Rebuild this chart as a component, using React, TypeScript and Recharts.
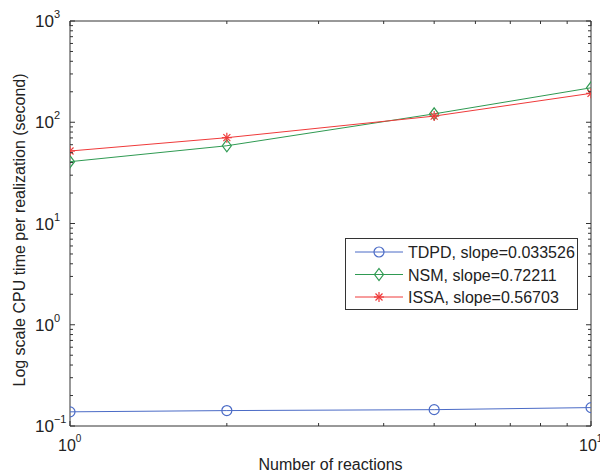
import React from "react";
import {
  LineChart,
  Line,
  XAxis,
  YAxis,
  Legend,
  ReferenceArea,
} from "recharts";

// reaction counts (x) and CPU time per realization (seconds)
const reactions = [1, 2, 5, 10];
const tdpdTimes = [0.138, 0.142, 0.145, 0.152];
const nsmTimes = [40.8, 58.6, 121, 219];
const issaTimes = [52, 70.4, 115, 193];

const seriesNames = [
  "TDPD, slope=0.033526",
  "NSM, slope=0.72211",
  "ISSA, slope=0.56703",
];

const xTitle = "Number of reactions";
const yTitle = "Log scale CPU time per realization (second)";

const xTicks = [1, 2, 3, 4, 5, 6, 7, 8, 9, 10];
const xMajor = [1, 10];
const yMajor = [0.1, 1, 10, 100, 1000];
const yTicks = [
  0.1, 0.2, 0.3, 0.4, 0.5, 0.6, 0.7, 0.8, 0.9,
  1, 2, 3, 4, 5, 6, 7, 8, 9,
  10, 20, 30, 40, 50, 60, 70, 80, 90,
  100, 200, 300, 400, 500, 600, 700, 800, 900,
  1000,
];

const data = reactions.map((x, i) => ({
  x,
  tdpd: tdpdTimes[i],
  nsm: nsmTimes[i],
  issa: issaTimes[i],
}));

const W = 600;
const H = 472;
const PLOT_LEFT = 70;
const PLOT_RIGHT = 591;
const PLOT_TOP = 21;
const PLOT_BOTTOM = 426;

const AXIS = "#333";
const TEXT = "#222";
const FONT = "'Liberation Sans', Arial, Helvetica, sans-serif";

const BLUE = "#4b6bc6";
const GREEN = "#2f9a52";
const RED = "#ef3a3a";

const expLabel = (v: number) => {
  const e = Math.round(Math.log10(v));
  return e < 0 ? "\u2212" + Math.abs(e) : String(e);
};

const isMajor = (list: number[], v: number) =>
  list.some((m) => Math.abs(m - v) < 1e-9);

const XTick = (props: any) => {
  const { x, payload } = props;
  const v = payload.value;
  const major = isMajor(xMajor, v);
  const len = major ? 5 : 3;
  return (
    <g>
      <line x1={x} x2={x} y1={PLOT_BOTTOM} y2={PLOT_BOTTOM - len} stroke={AXIS} />
      <line x1={x} x2={x} y1={PLOT_TOP} y2={PLOT_TOP + len} stroke={AXIS} />
      {major && (
        <text x={x - 12} y={PLOT_BOTTOM + 25} fontSize={16} fill={TEXT} fontFamily={FONT}>
          10
          <tspan dy={-9} fontSize={10}>
            {expLabel(v)}
          </tspan>
        </text>
      )}
    </g>
  );
};

const YTick = (props: any) => {
  const { y, payload } = props;
  const v = payload.value;
  const major = isMajor(yMajor, v);
  const len = major ? 5 : 3;
  return (
    <g>
      <line x1={PLOT_LEFT} x2={PLOT_LEFT + len} y1={y} y2={y} stroke={AXIS} />
      <line x1={PLOT_RIGHT} x2={PLOT_RIGHT - len} y1={y} y2={y} stroke={AXIS} />
      {major && (
        <text x={35} y={y + 6} fontSize={17} fill={TEXT} fontFamily={FONT}>
          10
          <tspan dy={-9} fontSize={11}>
            {expLabel(v)}
          </tspan>
        </text>
      )}
    </g>
  );
};

const YTitle = () => (
  <text
    x={19}
    y={230}
    transform="rotate(-90, 19, 230)"
    textAnchor="middle"
    dominantBaseline="central"
    fontSize={16}
    fill={TEXT}
    fontFamily={FONT}
  >
    {yTitle}
  </text>
);

const CircleMark = ({ cx, cy, color }: any) => (
  <circle cx={cx} cy={cy} r={5} fill="none" stroke={color} strokeWidth={1.2} />
);

const DiamondMark = ({ cx, cy, color }: any) => (
  <polygon
    points={`${cx},${cy - 6} ${cx + 4.5},${cy} ${cx},${cy + 6} ${cx - 4.5},${cy}`}
    fill="none"
    stroke={color}
    strokeWidth={1.2}
  />
);

const StarMark = ({ cx, cy, color }: any) => {
  const r = 5;
  const d = r * 0.7;
  return (
    <g stroke={color} strokeWidth={1.2}>
      <line x1={cx - r} x2={cx + r} y1={cy} y2={cy} />
      <line x1={cx} x2={cx} y1={cy - r} y2={cy + r} />
      <line x1={cx - d} x2={cx + d} y1={cy - d} y2={cy + d} />
      <line x1={cx - d} x2={cx + d} y1={cy + d} y2={cy - d} />
    </g>
  );
};

const markers = [
  { color: BLUE, Mark: CircleMark },
  { color: GREEN, Mark: DiamondMark },
  { color: RED, Mark: StarMark },
];

const LegendBox = () => (
  <div
    style={{
      border: "1px solid #333",
      background: "#fff",
      width: 233,
      height: 72,
      boxSizing: "border-box",
    }}
  >
    <svg width={231} height={70} style={{ display: "block" }}>
      {seriesNames.map((name, i) => {
        const { color, Mark } = markers[i];
        const cy = 13 + i * 22.5;
        return (
          <g key={name}>
            <line x1={9} x2={57} y1={cy} y2={cy} stroke={color} strokeWidth={1} />
            <Mark cx={33} cy={cy} color={color} />
            <text x={62} y={cy + 6} fontSize={16} fill={TEXT} fontFamily={FONT}>
              {name}
            </text>
          </g>
        );
      })}
    </svg>
  </div>
);

export default function App() {
  return (
    <div style={{ position: "absolute", left: 0, top: 0, width: W, height: H, background: "#fff" }}>
      <LineChart
        width={W}
        height={H}
        data={data}
        margin={{ top: PLOT_TOP, right: W - PLOT_RIGHT, bottom: 0, left: 0 }}
        style={{ fontFamily: FONT }}
      >
        <XAxis
          dataKey="x"
          type="number"
          scale="log"
          domain={[1, 10]}
          ticks={xTicks}
          interval={0}
          allowDataOverflow
          axisLine={false}
          tickLine={false}
          tick={<XTick />}
          height={H - PLOT_BOTTOM}
          label={{
            value: xTitle,
            position: "insideBottom",
            offset: 2,
            fontSize: 16,
            fill: TEXT,
          }}
        />
        <YAxis
          type="number"
          scale="log"
          domain={[0.1, 1000]}
          ticks={yTicks}
          interval={0}
          allowDataOverflow
          axisLine={false}
          tickLine={false}
          tick={<YTick />}
          width={PLOT_LEFT}
          label={{ content: () => <YTitle /> }}
        />
        <ReferenceArea
          x1={1}
          x2={10}
          y1={0.1}
          y2={1000}
          fill="none"
          stroke={AXIS}
          strokeWidth={1}
          fillOpacity={0}
        />
        <Line
          dataKey="tdpd"
          name={seriesNames[0]}
          stroke={BLUE}
          strokeWidth={1}
          isAnimationActive={false}
          dot={(p: any) => <CircleMark key={p.index} cx={p.cx} cy={p.cy} color={BLUE} />}
        />
        <Line
          dataKey="nsm"
          name={seriesNames[1]}
          stroke={GREEN}
          strokeWidth={1}
          isAnimationActive={false}
          dot={(p: any) => <DiamondMark key={p.index} cx={p.cx} cy={p.cy} color={GREEN} />}
        />
        <Line
          dataKey="issa"
          name={seriesNames[2]}
          stroke={RED}
          strokeWidth={1}
          isAnimationActive={false}
          dot={(p: any) => <StarMark key={p.index} cx={p.cx} cy={p.cy} color={RED} />}
        />
        <Legend
          layout="horizontal"
          align="center"
          verticalAlign="middle"
          content={() => <LegendBox />}
          wrapperStyle={{ left: 345, top: 238, width: 233, height: 72 }}
        />
      </LineChart>
    </div>
  );
}
